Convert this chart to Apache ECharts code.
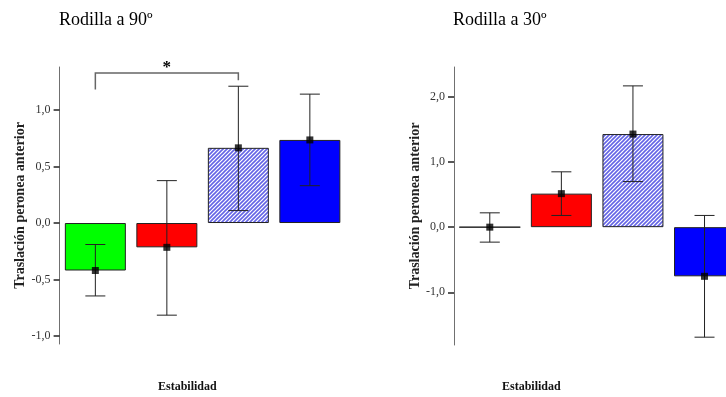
<!DOCTYPE html>
<html>
<head>
<meta charset="utf-8">
<script src="https://cdn.jsdelivr.net/npm/echarts@6/dist/echarts.min.js"></script>
<style>
  html, body { margin: 0; padding: 0; background: #fff; }
  #chart { width: 726px; height: 397px; }
</style>
</head>
<body>
<div id="chart"></div>
<script>
// Groups of stability (x axis labels are not shown); position = index
const categories = ['Grupo 1', 'Grupo 2', 'Grupo 3', 'Grupo 4'];

// Knee at 90 degrees: mean and error-bar limits
const knee90Mean = [-0.42, -0.215, 0.665, 0.735];
const knee90Low  = [-0.645, -0.815, 0.11, 0.33];
const knee90High = [-0.19, 0.375, 1.21, 1.14];
const knee90Ticks = [-1.0, -0.5, 0.0, 0.5, 1.0];

// Knee at 30 degrees: mean and error-bar limits
const knee30Mean = [0.0, 0.515, 1.43, -0.755];
const knee30Low  = [-0.23, 0.18, 0.70, -1.69];
const knee30High = [0.22, 0.85, 2.17, 0.18];
const knee30Ticks = [-1.0, 0.0, 1.0, 2.0];

// Significance bracket between groups 1 and 3 (knee at 90)
const bracket = { from: 0, to: 2, level: 1.327, leftEnd: 1.18, rightEnd: 1.263, mark: '*' };

const serif = '"Liberation Serif", "DejaVu Serif", serif';

// Diagonal hatch fill for the third group
function hatchPattern() {
  const c = document.createElement('canvas');
  c.width = 4; c.height = 4;
  const g = c.getContext('2d');
  g.fillStyle = '#ffffff';
  g.fillRect(0, 0, 4, 4);
  g.strokeStyle = '#6464e6';
  g.lineWidth = 1.6;
  g.beginPath();
  g.moveTo(-1, 5); g.lineTo(5, -1);
  g.moveTo(-1, 1); g.lineTo(1, -1);
  g.moveTo(3, 5); g.lineTo(5, 3);
  g.stroke();
  return { image: c, repeat: 'repeat' };
}
const hatch = hatchPattern();
const fills = ['#00ff00', '#ff0000', hatch, '#0000ff'];

function barData(values) {
  return values.map((v, i) => ({
    name: categories[i],
    value: [i, v],
    itemStyle: { color: fills[i], borderColor: '#222', borderWidth: 1 }
  }));
}

function errData(low, high) {
  return low.map((lo, i) => [i, lo, high[i]]);
}

function renderError(params, api) {
  const x = api.value(0);
  const p0 = api.coord([x, api.value(1)]);
  const p1 = api.coord([x, api.value(2)]);
  const half = 10;
  const style = { stroke: '#222', lineWidth: 1 };
  return {
    type: 'group',
    children: [
      { type: 'line', shape: { x1: p0[0], y1: p0[1], x2: p1[0], y2: p1[1] }, style },
      { type: 'line', shape: { x1: p0[0] - half, y1: p0[1], x2: p0[0] + half, y2: p0[1] }, style },
      { type: 'line', shape: { x1: p1[0] - half, y1: p1[1], x2: p1[0] + half, y2: p1[1] }, style }
    ]
  };
}

function renderBracket(params, api) {
  const a = api.coord([api.value(0), api.value(2)]);
  const b = api.coord([api.value(1), api.value(2)]);
  const aEnd = api.coord([api.value(0), api.value(3)]);
  const bEnd = api.coord([api.value(1), api.value(4)]);
  return {
    type: 'group',
    children: [
      {
        type: 'polyline',
        shape: { points: [[a[0], aEnd[1]], a, b, [b[0], bEnd[1]]] },
        style: { stroke: '#666', lineWidth: 1.5, fill: null }
      },
      {
        type: 'text',
        style: {
          text: bracket.mark, x: (a[0] + b[0]) / 2, y: a[1] + 3,
          align: 'center', verticalAlign: 'bottom',
          font: 'bold 17px ' + serif, fill: '#000'
        }
      }
    ]
  };
}

function yAxisFor(gridIndex, min, max, ticks) {
  return {
    type: 'value', gridIndex, min, max,
    name: 'Traslación peronea anterior',
    nameLocation: 'middle', nameGap: 31,
    nameTextStyle: { fontFamily: serif, fontWeight: 'bold', fontSize: 14, color: '#222' },
    splitLine: { show: false },
    axisLine: { show: true, onZero: false, lineStyle: { color: '#707070', width: 1 } },
    axisTick: { show: true, length: 6, customValues: ticks, lineStyle: { color: '#222', width: 1.5 } },
    axisLabel: {
      customValues: ticks, margin: 9,
      fontFamily: serif, fontSize: 12, color: '#333',
      formatter: v => v.toFixed(1).replace('.', ',')
    }
  };
}

// Hidden numeric axis: bar i is centred on value i
function xAxisFor(gridIndex, max) {
  return {
    type: 'value', gridIndex, min: -0.5, max,
    axisLine: { show: false, onZero: false }, axisTick: { show: false }, axisLabel: { show: false },
    splitLine: { show: false }
  };
}

const chart = echarts.init(document.getElementById('chart'), null, { renderer: 'canvas' });

const titleStyle = { fontFamily: serif, fontWeight: 'normal', fontSize: 18, color: '#000' };

chart.setOption({
  backgroundColor: '#ffffff',
  animation: false,
  title: [
    { text: 'Rodilla a 90º', left: 59, top: 11, padding: 0, textStyle: titleStyle },
    { text: 'Rodilla a 30º', left: 453, top: 11, padding: 0, textStyle: titleStyle }
  ],
  grid: [
    { left: 59.6, top: 67, width: 286, height: 277 },
    { left: 454, top: 67, right: 0, height: 278 }
  ],
  xAxis: [xAxisFor(0, 3.5), xAxisFor(1, 3.3)],
  yAxis: [
    yAxisFor(0, -1.07, 1.38, knee90Ticks),
    yAxisFor(1, -1.81, 2.46, knee30Ticks)
  ],
  graphic: [
    { type: 'text', left: 158, top: 381, style: { text: 'Estabilidad', font: 'bold 12px ' + serif, fill: '#111' } },
    { type: 'text', left: 502, top: 381, style: { text: 'Estabilidad', font: 'bold 12px ' + serif, fill: '#111' } }
  ],
  series: [
    { type: 'bar', xAxisIndex: 0, yAxisIndex: 0, barWidth: 61, data: barData(knee90Mean), z: 2 },
    { type: 'custom', xAxisIndex: 0, yAxisIndex: 0, renderItem: renderError, data: errData(knee90Low, knee90High), z: 3 },
    { type: 'scatter', xAxisIndex: 0, yAxisIndex: 0, symbol: 'rect', symbolSize: 7, itemStyle: { color: '#000' }, data: knee90Mean.map((v, i) => [i, v]), z: 4 },
    {
      type: 'custom', xAxisIndex: 0, yAxisIndex: 0, renderItem: renderBracket, clip: false,
      data: [[bracket.from, bracket.to, bracket.level, bracket.leftEnd, bracket.rightEnd]], z: 5
    },

    { type: 'bar', xAxisIndex: 1, yAxisIndex: 1, barWidth: 61, data: barData(knee30Mean), z: 2 },
    { type: 'custom', xAxisIndex: 1, yAxisIndex: 1, renderItem: renderError, data: errData(knee30Low, knee30High), z: 3 },
    { type: 'scatter', xAxisIndex: 1, yAxisIndex: 1, symbol: 'rect', symbolSize: 7, itemStyle: { color: '#000' }, data: knee30Mean.map((v, i) => [i, v]), z: 4 }
  ]
});
</script>
</body>
</html>
